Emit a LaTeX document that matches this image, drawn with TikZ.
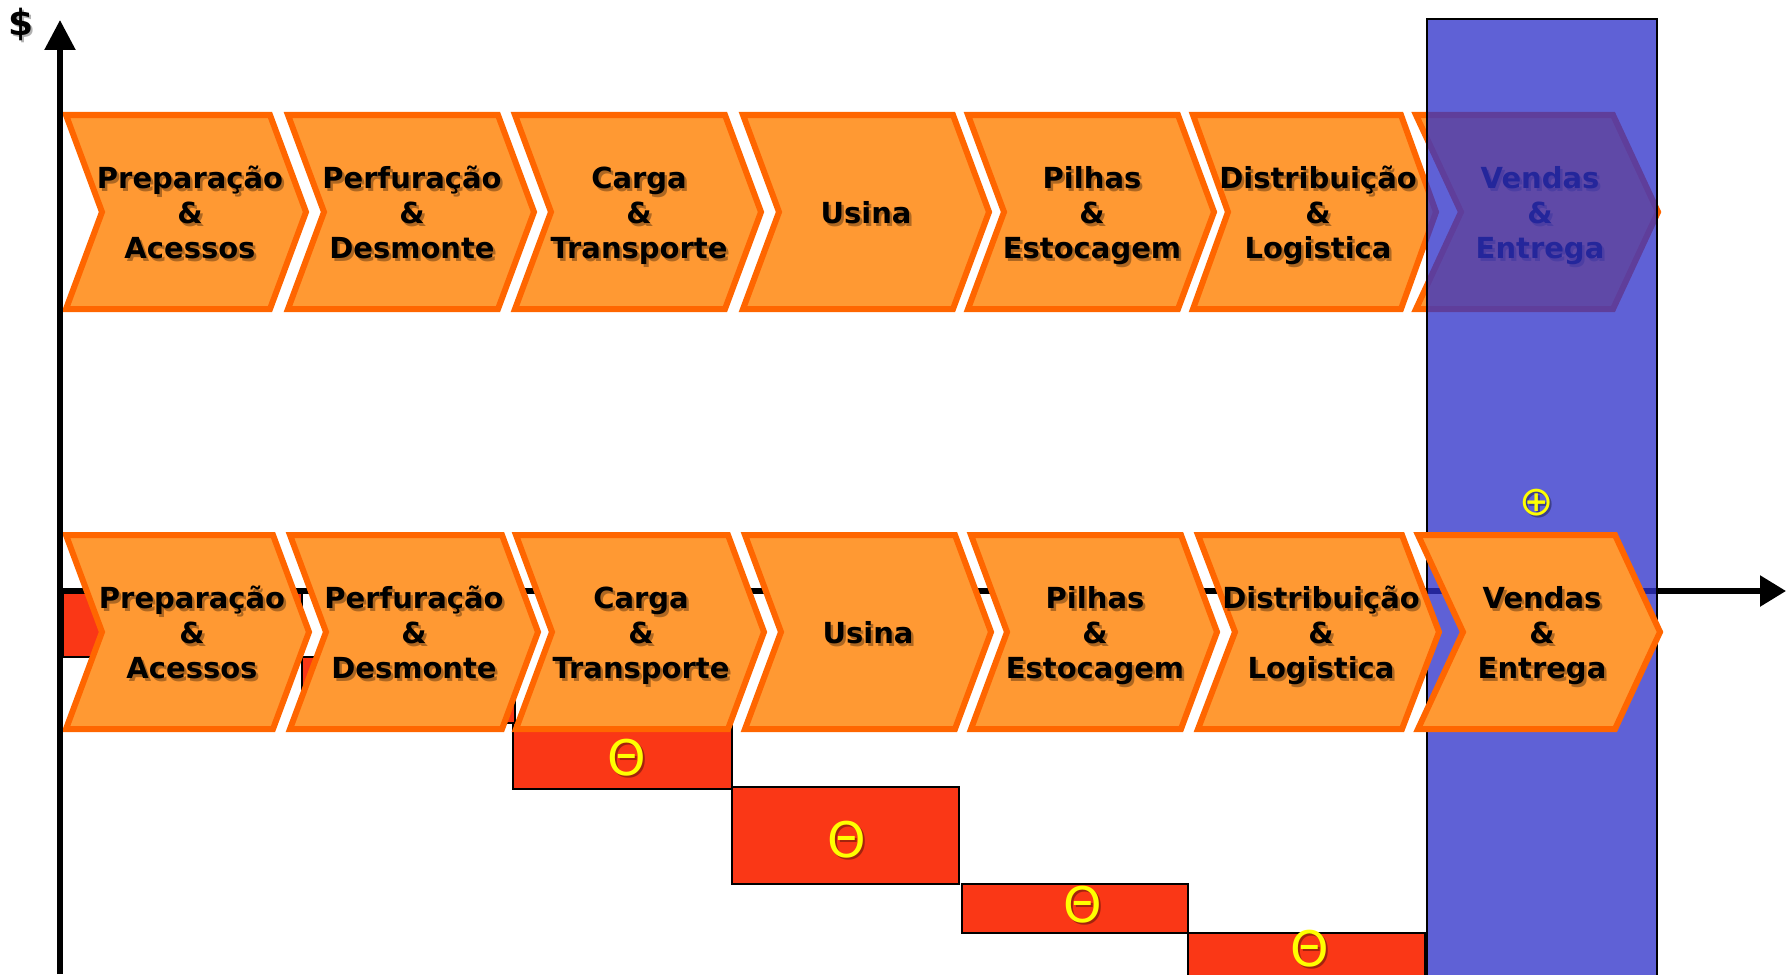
\documentclass[tikz,border=0pt]{standalone}
\usepackage{fontspec}
\setmainfont{DejaVu Sans}
\usetikzlibrary{arrows.meta}
\definecolor{chevfill}{HTML}{FF9933}
\definecolor{chevline}{HTML}{FF6600}
\definecolor{boxred}{HTML}{FA3716}
\definecolor{bandblue}{RGB}{47,50,202}
\definecolor{symyellow}{HTML}{FFFF00}
\tikzset{
  chev/.style={fill=chevfill, draw=chevline, line width=3pt, line join=miter},
  lbl/.style={font=\fontsize{14.5}{17.5}\selectfont\bfseries, text=black, inner sep=0pt, anchor=base},
  lblsh/.style={lbl, text opacity=0.32},
  loss/.style={fill=boxred, draw=black, line width=1pt},
  sym/.style={font=\fontsize{24.5}{25}\selectfont, text=symyellow, inner sep=0pt},
  symsh/.style={sym, text=black, text opacity=0.35},
  plussym/.style={font=\fontsize{20.5}{21}\selectfont, text=symyellow, inner sep=0pt},
  plussh/.style={plussym, text=black, text opacity=0.35},
  axisline/.style={line width=2.75pt, draw=black},
  band/.style={fill=bandblue, fill opacity=0.77, draw=black, line width=0.75pt},
  dollar/.style={font=\fontsize{18}{18}\selectfont\bfseries, text=black, inner sep=0pt},
  dollarsh/.style={dollar, text opacity=0.3},
}
% #1 outer left, #2 top, #3 width, #4 depth
\newcommand\chevshape[4]{%
  \draw[chev] ({#1+3},{#2+3}) -- ({#1+#3-3},{#2+3}) -- ({#1+#3-3+#4},{#2+100})
    -- ({#1+#3-3},{#2+197}) -- ({#1+3},{#2+197}) -- ({#1+3+#4},{#2+100}) -- cycle;}
% one text line: #1 name, #2 x, #3 baseline y, #4 text
\newcommand\chevline[4]{%
  \node[lblsh] (#1s) at ({#2+2.5},{#3+2.5}) {#4};
  \node[lbl] (#1) at (#2,#3) {#4};}
% three lines: #1 name, #2 x, #3 top of row, #4 #5 #6 lines
\newcommand\chevthree[6]{%
  \chevline{#1a}{#2}{#3+76.5}{#4}
  \chevline{#1b}{#2}{#3+111.5}{#5}
  \chevline{#1c}{#2}{#3+146.5}{#6}}
\begin{document}
\begin{tikzpicture}[x=0.5pt,y=-0.5pt]
\useasboundingbox (0,0) rectangle (1786,974);

% horizontal axis
\coordinate (xo) at (60,591);
\coordinate (xe) at (1786,591);
\draw[axisline, -{Triangle[length=13pt,width=15pt]}] (xo) -- (xe);

% loss boxes
\draw[loss] (63,593) rectangle (302,657);
\draw[loss] (302,657) rectangle (515,723);
\draw[loss] (513,723) rectangle (732,789);
\draw[loss] (732,787) rectangle (959,884);
\draw[loss] (962,884) rectangle (1188,933);
\draw[loss] (1188,933) rectangle (1425,990);
\node[symsh] (m3s) at (629,760) {Θ};
\node[sym] (m3) at (627,758) {Θ};
\node[symsh] (m4s) at (849,842) {Θ};
\node[sym] (m4) at (847,840) {Θ};
\node[symsh] (m5s) at (1085,907) {Θ};
\node[sym] (m5) at (1083,905) {Θ};
\node[symsh] (m6s) at (1312,951) {Θ};
\node[sym] (m6) at (1310,949) {Θ};

% top row
\chevshape{63}{112}{210}{36}
\chevshape{285}{112}{216}{36}
\chevshape{512}{112}{216}{36}
\chevshape{740}{112}{216}{36}
\chevshape{965}{112}{216}{36}
\chevshape{1190}{112}{214}{35}
\chevshape{1413}{112}{203}{45}
\chevthree{a1}{190}{112}{Preparação}{\&}{Acessos}
\chevthree{a2}{412}{112}{Perfuração}{\&}{Desmonte}
\chevthree{a3}{639}{112}{Carga}{\&}{Transporte}
\chevline{a4}{866}{223.5}{Usina}
\chevthree{a5}{1092}{112}{Pilhas}{\&}{Estocagem}
\chevthree{a6}{1318}{112}{Distribuição}{\&}{Logistica}
\chevthree{a7}{1540}{112}{Vendas}{\&}{Entrega}

% blue band
\draw[band] (1427,19) rectangle (1657,990);

% bottom row
\chevshape{63}{532}{213}{36}
\chevshape{287}{532}{218}{36}
\chevshape{513}{532}{218}{36}
\chevshape{742}{532}{216}{36}
\chevshape{968}{532}{216}{36}
\chevshape{1195}{532}{210}{37}
\chevshape{1415}{532}{203}{45}
\chevthree{b1}{192}{532}{Preparação}{\&}{Acessos}
\chevthree{b2}{414}{532}{Perfuração}{\&}{Desmonte}
\chevthree{b3}{641}{532}{Carga}{\&}{Transporte}
\chevline{b4}{868}{643.5}{Usina}
\chevthree{b5}{1095}{532}{Pilhas}{\&}{Estocagem}
\chevthree{b6}{1321}{532}{Distribuição}{\&}{Logistica}
\chevthree{b7}{1542}{532}{Vendas}{\&}{Entrega}

% plus symbol
\node[plussh] (ps) at (1539,505) {⊕};
\node[plussym] (p) at (1537,503) {⊕};

% vertical axis
\coordinate (yo) at (60,974);
\coordinate (ye) at (60,20);
\draw[axisline, -{Triangle[length=15pt,width=15pt]}] (yo) -- (ye);
\node[dollarsh] (ds) at (23.5,26.5) {\$};
\node[dollar] (d) at (21,24) {\$};
\end{tikzpicture}
\end{document}
